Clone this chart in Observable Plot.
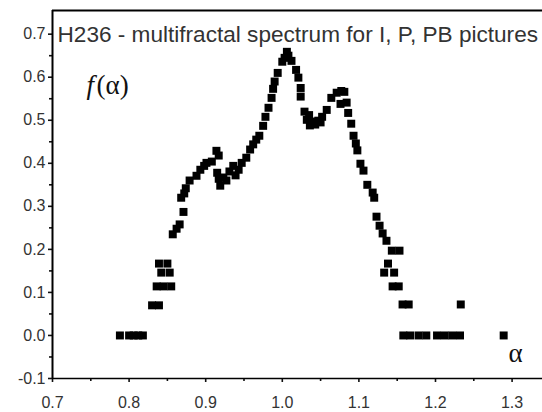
<!DOCTYPE html>
<html><head><meta charset="utf-8">
<script src="https://cdn.jsdelivr.net/npm/d3@7"></script>
<script src="https://cdn.jsdelivr.net/npm/@observablehq/plot@0.6"></script>
<style>
html,body{margin:0;padding:0;background:#fff;}
#chart{width:542px;height:412px;overflow:hidden;}
</style></head><body><div id="chart"></div>
<script>
// α values (x) and f(α) values (y)
const alpha = [
  0.788,0.800,0.806,0.812,0.818,
  0.830,0.839,
  0.836,0.845,0.855,
  0.842,0.853,
  0.839,0.850,
  0.857,0.862,0.866,
  0.871,
  0.868,0.872,0.874,
  0.879,0.888,0.893,0.898,0.901,0.908,
  0.914,0.917,0.915,0.917,0.923,0.927,0.919,
  0.931,0.936,0.943,0.939,0.947,0.953,0.958,0.962,0.966,0.970,0.975,0.978,0.982,0.986,0.988,0.990,0.994,
  1.000,1.003,1.006,1.008,1.012,1.018,1.021,1.024,1.024,
  1.029,1.032,1.036,1.035,1.039,1.043,1.047,1.050,1.052,1.058,
  1.064,1.071,1.077,1.081,1.076,1.084,1.086,1.090,1.093,1.096,1.098,
  1.102,1.106,1.111,1.118,1.120,
  1.123,1.127,1.131,1.136,1.143,1.153,
  1.138,1.133,1.146,1.144,1.152,
  1.157,1.165,1.233,
  1.158,1.167,1.178,1.188,1.202,1.212,1.222,1.232,1.289
];
const fAlpha = [
  0,0,0,0,0,
  0.070,0.070,
  0.114,0.114,0.114,
  0.146,0.146,
  0.167,0.167,
  0.235,0.248,0.258,
  0.287,
  0.320,0.330,0.342,
  0.360,0.371,0.385,0.394,0.401,0.404,
  0.429,0.418,0.378,0.364,0.367,0.360,0.348,
  0.381,0.394,0.385,0.372,0.401,0.413,0.432,0.444,0.455,0.464,0.487,0.508,0.529,0.552,0.573,0.590,0.610,
  0.636,0.645,0.659,0.650,0.638,0.617,0.599,0.575,0.555,
  0.520,0.501,0.488,0.512,0.497,0.490,0.499,0.495,0.508,0.524,
  0.552,0.564,0.568,0.566,0.538,0.541,0.517,0.492,0.464,0.446,0.430,
  0.399,0.383,0.350,0.332,0.320,
  0.276,0.255,0.237,0.220,0.197,0.197,
  0.167,0.146,0.146,0.114,0.114,
  0.072,0.072,0.072,
  0,0,0,0,0,0,0,0,0
];
const xTicks = [0.7,0.8,0.9,1.0,1.1,1.2,1.3];
const xMinorTicks = [0.75,0.85,0.95,1.05,1.15,1.25];
const yTicks = [-0.1,0.0,0.1,0.2,0.3,0.4,0.5,0.6,0.7];
const yMinorTicks = [-0.05,0.05,0.15,0.25,0.35,0.45,0.55,0.65];
const titleText = "H236 - multifractal spectrum for I, P, PB pictures";
const yLabel = "(α)";
const yLabelF = "f";
const xLabel = "α";

const xDomain = [0.7, 1.3397];
const yDomain = [-0.1, 0.755];

const points = alpha.map((a, i) => ({a, f: fAlpha[i]}));
const fmt = d => d.toFixed(1);

const chart = Plot.plot({
  width: 542,
  height: 412,
  marginLeft: 52,
  marginRight: 0,
  marginTop: 10,
  marginBottom: 34,
  style: {fontFamily: "'Liberation Sans', Arial, sans-serif", fontSize: "16px", color: "#333", background: "#fff"},
  x: {domain: xDomain, axis: null},
  y: {domain: yDomain, axis: null},
  marks: [
    Plot.axisX(xTicks, {label: null, tickSize: 4, tickPadding: 14, tickFormat: fmt, strokeWidth: 1.6, stroke: "#111", fill: "#333"}),
    Plot.axisX(xMinorTicks, {label: null, tickSize: 3, tickFormat: () => "", strokeWidth: 1.6, stroke: "#111"}),
    Plot.axisY(yTicks, {label: null, tickSize: 4, tickPadding: 3, tickFormat: fmt, strokeWidth: 1.6, stroke: "#111", fill: "#333"}),
    Plot.axisY(yMinorTicks, {label: null, tickSize: 3, tickFormat: () => "", strokeWidth: 1.6, stroke: "#111"}),
    Plot.ruleX([xDomain[0]], {stroke: "#000", strokeWidth: 2}),
    Plot.ruleY([yDomain[0]], {stroke: "#000", strokeWidth: 1.5}),
    Plot.ruleY([yDomain[1]], {stroke: "#000", strokeWidth: 2}),
    Plot.dot(points, {x: "a", y: "f", symbol: "square", r: 4.5, fill: "#000"}),
    Plot.text([titleText], {frameAnchor: "top-left", dx: 5, dy: 15, textAnchor: "start", fontSize: 22.6, fill: "#333", fontFamily: "'Liberation Sans', Arial, sans-serif"}),
    Plot.text([yLabelF], {frameAnchor: "top-left", dx: 34, dy: 64, textAnchor: "start", fontSize: 27, fontStyle: "italic", fill: "#111", fontFamily: "'Liberation Serif', 'Times New Roman', serif"}),
    Plot.text([yLabel], {frameAnchor: "top-left", dx: 44, dy: 64, textAnchor: "start", fontSize: 27, fill: "#111", fontFamily: "'Liberation Serif', 'Times New Roman', serif"}),
    Plot.text([xLabel], {frameAnchor: "bottom-right", dx: -27, dy: -17, textAnchor: "middle", fontSize: 27, fill: "#111", fontFamily: "'Liberation Serif', 'Times New Roman', serif"})
  ]
});
document.getElementById("chart").appendChild(chart);
</script>
</body></html>
